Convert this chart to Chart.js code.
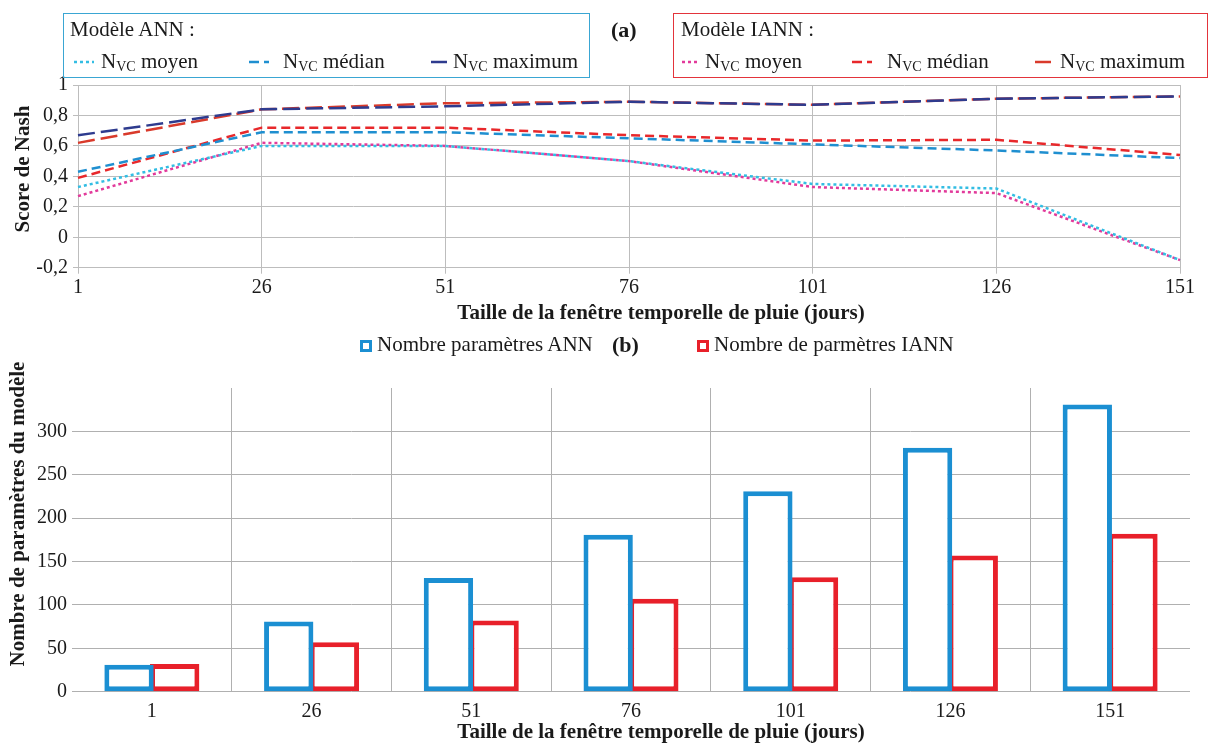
<!DOCTYPE html>
<html>
<head>
<meta charset="utf-8">
<script src="https://cdn.jsdelivr.net/npm/chart.js@4.4.1/dist/chart.umd.min.js"></script>
<style>
body { margin: 0; background: #fff; font-family: 'Liberation Serif', serif; color: #1a1a1a; }
#page { position: relative; width: 1211px; height: 751px; overflow: hidden; }
.wrap { position: absolute; left: 0; width: 1211px; }
.box { position: absolute; top: 13px; height: 65px; border: 1.5px solid; box-sizing: border-box; font-size: 21px; }
.box .ttl { position: absolute; top: 3px; white-space: nowrap; }
.box .it { position: absolute; top: 35px; white-space: nowrap; }
.box svg { position: absolute; top: 46px; }
sub { font-size: 14px; vertical-align: -3px; }
.lbl { position: absolute; font-weight: bold; font-size: 22px; }
.ytitle { position: absolute; font-weight: bold; font-size: 21px; white-space: nowrap; transform: translate(-50%, -50%) rotate(-90deg); }
.xtitle { position: absolute; font-weight: bold; font-size: 21px; line-height: 24px; white-space: nowrap; transform: translateX(-50%); }
.leg { position: absolute; font-size: 21px; white-space: nowrap; }
.mk { position: absolute; width: 12px; height: 12px; border: 3px solid; box-sizing: border-box; }
</style>
</head>
<body>
<div id="page">
  <div class="wrap" style="top:0;height:330px"><canvas id="nashChart"></canvas></div>
  <div class="wrap" style="top:330px;height:421px"><canvas id="paramChart"></canvas></div>

  <div class="box" style="left:63px;width:527px;border-color:#3aa6d3">
    <span class="ttl" style="left:6px">Modèle ANN :</span>
    <svg style="left:10px" width="20" height="4"><line x1="0" y1="2" x2="20" y2="2" stroke="#33bde3" stroke-width="2.5" stroke-dasharray="3,3"/></svg>
    <span class="it" style="left:37px">N<sub>VC</sub> moyen</span>
    <svg style="left:185px" width="20" height="4"><line x1="0" y1="2" x2="20" y2="2" stroke="#1f8fd0" stroke-width="2.5" stroke-dasharray="10,5"/></svg>
    <span class="it" style="left:219px">N<sub>VC</sub> médian</span>
    <svg style="left:367px" width="16" height="4"><line x1="0" y1="2" x2="16" y2="2" stroke="#2e3b8e" stroke-width="2.5"/></svg>
    <span class="it" style="left:389px">N<sub>VC</sub> maximum</span>
  </div>
  <div class="lbl" style="left:611px;top:17px">(a)</div>
  <div class="box" style="left:673px;width:535px;border-color:#e3343b">
    <span class="ttl" style="left:7px">Modèle IANN :</span>
    <svg style="left:8px" width="18" height="4"><line x1="0" y1="2" x2="18" y2="2" stroke="#e23a9b" stroke-width="2.5" stroke-dasharray="3,3"/></svg>
    <span class="it" style="left:31px">N<sub>VC</sub> moyen</span>
    <svg style="left:178px" width="20" height="4"><line x1="0" y1="2" x2="20" y2="2" stroke="#e8282b" stroke-width="2.5" stroke-dasharray="10,5"/></svg>
    <span class="it" style="left:213px">N<sub>VC</sub> médian</span>
    <svg style="left:361px" width="16" height="4"><line x1="0" y1="2" x2="16" y2="2" stroke="#d93a2b" stroke-width="2.5"/></svg>
    <span class="it" style="left:386px">N<sub>VC</sub> maximum</span>
  </div>
  <div class="ytitle" style="left:22px;top:169px">Score de Nash</div>
  <div class="xtitle" style="left:661px;top:300px">Taille de la fenêtre temporelle de pluie (jours)</div>

  <div class="mk" style="left:360px;top:340px;border-color:#1b8fd2"></div>
  <div class="leg" style="left:377px;top:332px">Nombre paramètres ANN</div>
  <div class="lbl" style="left:612px;top:332px">(b)</div>
  <div class="mk" style="left:697px;top:340px;border-color:#e8202a"></div>
  <div class="leg" style="left:714px;top:332px">Nombre de parmètres IANN</div>
  <div class="ytitle" style="left:17px;top:514px">Nombre de paramètres du modèle</div>
  <div class="xtitle" style="left:661px;top:719px">Taille de la fenêtre temporelle de pluie (jours)</div>
</div>

<script>
const windowLabels = ['1', '26', '51', '76', '101', '126', '151'];

// Score de Nash (a)
const annMoyen = [0.33, 0.60, 0.60, 0.50, 0.35, 0.32, -0.15];
const annMedian = [0.43, 0.69, 0.69, 0.65, 0.61, 0.57, 0.52];
const annMax = [0.67, 0.84, 0.86, 0.89, 0.87, 0.91, 0.925];
const iannMoyen = [0.27, 0.62, 0.60, 0.50, 0.33, 0.29, -0.15];
const iannMedian = [0.39, 0.72, 0.72, 0.67, 0.635, 0.64, 0.54];
const iannMax = [0.62, 0.84, 0.88, 0.89, 0.87, 0.91, 0.925];

// Nombre de paramètres (b)
const annParams = [31, 81, 131, 181, 231, 281, 331];
const iannParams = [32, 57, 82, 107, 132, 157, 182];

const gridGray = '#bdbdbd';
const tickFont = { family: 'Liberation Serif', size: 20 };

function line(label, data, color, dash) {
    return {
        label: label,
        data: data,
        borderColor: color,
        borderWidth: 2.5,
        borderDash: dash,
        pointRadius: 0,
        fill: false,
        tension: 0
    };
}

const nashChart = new Chart(document.getElementById('nashChart'), {
    type: 'line',
    data: {
        labels: windowLabels,
        datasets: [
            line('ANN moyen', annMoyen, '#33bde3', [3, 3]),
            line('IANN moyen', iannMoyen, '#e23a9b', [3, 3]),
            line('ANN médian', annMedian, '#1f8fd0', [9, 5]),
            line('IANN médian', iannMedian, '#e8282b', [9, 5]),
            line('ANN maximum', annMax, '#2e3b8e', [17, 6]),
            line('IANN maximum', iannMax, '#d93a2b', [17, 6])
        ]
    },
    options: {
        responsive: true,
        maintainAspectRatio: false,
        animation: false,
        devicePixelRatio: 1,
        layout: { padding: { top: 85, right: 31, bottom: 0, left: 0 } },
        plugins: { legend: { display: false }, tooltip: { enabled: false } },
        scales: {
            x: {
                offset: false,
                grid: { color: gridGray, tickLength: 6 },
                border: { color: gridGray },
                ticks: { font: tickFont, color: '#1a1a1a', padding: 2, maxRotation: 0 },
                afterFit: s => { s.height = 62.3; }
            },
            y: {
                min: -0.2,
                max: 1,
                ticks: {
                    stepSize: 0.2,
                    font: tickFont,
                    color: '#1a1a1a',
                    padding: 5,
                    callback: v => String(Math.round(v * 10) / 10).replace('.', ',')
                },
                grid: { color: gridGray, tickLength: 5 },
                border: { display: false },
                afterFit: s => { s.width = 78; }
            }
        }
    }
});

const paramChart = new Chart(document.getElementById('paramChart'), {
    type: 'bar',
    data: {
        labels: windowLabels,
        datasets: [{
            label: 'Nombre paramètres ANN',
            data: annParams,
            backgroundColor: '#ffffff',
            borderColor: '#1b8fd2',
            borderWidth: 5,
            borderSkipped: false
        }, {
            label: 'Nombre de parmètres IANN',
            data: iannParams,
            backgroundColor: '#ffffff',
            borderColor: '#e8202a',
            borderWidth: 5,
            borderSkipped: false
        }]
    },
    options: {
        responsive: true,
        maintainAspectRatio: false,
        animation: false,
        devicePixelRatio: 1,
        layout: { padding: { top: 58, right: 21, bottom: 0, left: 0 } },
        plugins: { legend: { display: false }, tooltip: { enabled: false } },
        datasets: { bar: { categoryPercentage: 0.572, barPercentage: 1.08 } },
        scales: {
            x: {
                grid: {
                    color: c => (c.index === undefined || c.index === 0) ? 'transparent' : '#b0b0b0',
                    drawTicks: false
                },
                border: { display: false },
                ticks: { font: tickFont, color: '#1a1a1a', padding: 8 },
                afterFit: s => { s.height = 59.3; }
            },
            y: {
                min: 0,
                max: 350,
                ticks: {
                    stepSize: 50,
                    font: tickFont,
                    color: '#1a1a1a',
                    padding: 5,
                    callback: v => v === 350 ? '' : v
                },
                grid: {
                    color: c => c.tick && c.tick.value === 350 ? 'transparent' : '#b0b0b0',
                    drawTicks: false
                },
                border: { display: false },
                afterFit: s => { s.width = 72; }
            }
        }
    }
});
</script>
</body>
</html>
